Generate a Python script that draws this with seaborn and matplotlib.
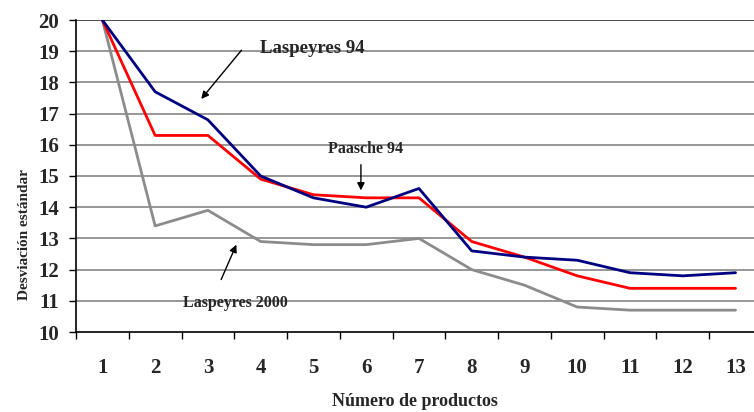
# Desviación estándar según número de productos
import pandas as pd
import matplotlib
matplotlib.use("Agg")
import matplotlib.pyplot as plt
import seaborn as sns
from matplotlib.ticker import MultipleLocator, FixedLocator

# Data
productos = list(range(1, 14))
laspeyres_94 = [20, 17.7, 16.8, 15.0, 14.3, 14.0, 14.6, 12.6, 12.4, 12.3, 11.9, 11.8, 11.9]
paasche_94 = [20, 16.3, 16.3, 14.9, 14.4, 14.3, 14.3, 12.9, 12.4, 11.8, 11.4, 11.4, 11.4]
laspeyres_2000 = [20, 13.4, 13.9, 12.9, 12.8, 12.8, 13.0, 12.0, 11.5, 10.8, 10.7, 10.7, 10.7]

series_names = ["Laspeyres 2000", "Paasche 94", "Laspeyres 94"]
colors = {"Laspeyres 2000": "#8c8c8c", "Paasche 94": "#ff0000", "Laspeyres 94": "#000080"}

df = pd.DataFrame({
    "productos": productos * 3,
    "valor": laspeyres_2000 + paasche_94 + laspeyres_94,
    "serie": [s for s in series_names for _ in productos],
})

sns.set_style("white")
plt.rcParams["font.family"] = ["Liberation Serif", "DejaVu Serif"]
plt.rcParams["font.weight"] = "bold"

fig = plt.figure(figsize=(7.54, 4.12), dpi=100)
ax = fig.add_axes([76 / 754, 1 - 332 / 412, 1 - 76 / 754, 312 / 412])

# Gridlines
for v in range(11, 21):
    ax.axhline(v, color="#1a1a1a" if v == 20 else "#7a7a7a", lw=1.1, zorder=1)

sns.lineplot(data=df, x="productos", y="valor", hue="serie", palette=colors,
             hue_order=series_names, lw=2, legend=False, ax=ax, zorder=3)

ax.set_xlim(0.5, 13.35)
ax.set_ylim(10, 20)
ax.yaxis.set_major_locator(MultipleLocator(1))
ax.xaxis.set_major_locator(FixedLocator(productos))
ax.xaxis.set_minor_locator(FixedLocator([p - 0.5 for p in productos] + [13.5]))
ax.tick_params(axis="x", which="major", length=0, pad=19, labelsize=15)
ax.tick_params(axis="x", which="minor", length=5, width=1, direction="out", color="black")
ax.tick_params(axis="y", length=5, width=1, direction="out", color="black", labelsize=15, pad=7)
ax.xaxis.set_ticks_position("bottom")
ax.yaxis.set_ticks_position("left")
for lab in ax.get_xticklabels() + ax.get_yticklabels():
    lab.set_fontweight("bold")

for side in ["top", "right"]:
    ax.spines[side].set_visible(False)
for side in ["left", "bottom"]:
    ax.spines[side].set_color("black")
    ax.spines[side].set_linewidth(1.2)

ax.set_xlabel("Número de productos", fontsize=13, fontweight="bold", va="center")
ax.xaxis.set_label_coords((415 - 76) / 678, -(402 - 332) / 312)
ax.set_ylabel("Desviación estándar", fontsize=11, fontweight="bold", va="center")
ax.yaxis.set_label_coords(-(76 - 25) / 678, (332 - 235) / 312)

# Annotations
arrow = dict(arrowstyle="-|>", color="black", lw=1, mutation_scale=11)
ax.annotate("", xy=(2.84, 17.4), xytext=(3.67, 19.1), arrowprops=arrow)
ax.text(3.99, 19.1, "Laspeyres 94", fontsize=13.5, fontweight="bold", va="center", ha="left")

ax.annotate("", xy=(5.9, 14.45), xytext=(5.9, 15.45), arrowprops=arrow)
ax.text(5.98, 15.85, "Paasche 94", fontsize=11.5, fontweight="bold", va="center", ha="center")

ax.annotate("", xy=(3.56, 12.88), xytext=(3.23, 11.6), arrowprops=arrow)
ax.text(3.52, 10.93, "Laspeyres 2000", fontsize=11.5, fontweight="bold", va="center", ha="center")

fig.savefig("out.png", dpi=100)
